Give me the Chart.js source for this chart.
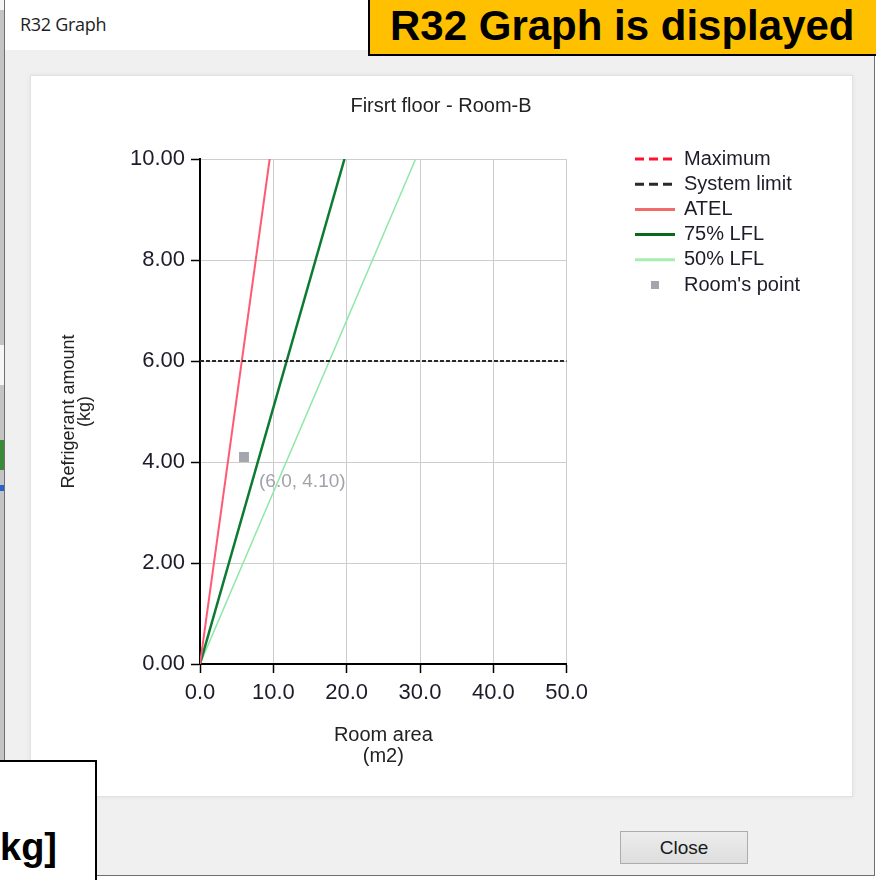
<!DOCTYPE html>
<html>
<head>
<meta charset="utf-8">
<title>R32 Graph</title>
<script src="https://cdn.jsdelivr.net/npm/chart.js@4.4.1/dist/chart.umd.min.js"></script>
<style>
  html, body { margin: 0; padding: 0; }
  body {
    width: 876px; height: 880px; position: relative; overflow: hidden;
    background: #fff; font-family: "Liberation Sans", Arial, sans-serif;
  }
  #behind { position: absolute; left: 0; top: 0; width: 5px; height: 880px; background: #c4c4c4; }
  #behind .strip { position: absolute; left: 0; width: 5px; }
  #window {
    position: absolute; left: 4px; top: -1px; width: 869px; height: 875px;
    background: #f0f0f0; border: 1px solid #6e6e6e;
  }
  #titlebar {
    position: absolute; left: 0; top: 0; width: 869px; height: 50px; background: #fff;
  }
  #titlebar span {
    position: absolute; left: 15px; top: 12px;
    font: 18px "Open Sans", "Noto Sans", sans-serif; color: #1e1e1e; letter-spacing: -0.3px;
  }
  #panel {
    position: absolute; left: 25px; top: 75px; width: 821px; height: 720px;
    background: #fff; border: 1px solid #e2e2e2; box-shadow: 0 0 4px rgba(0,0,0,0.07);
  }
  #closeBtn {
    position: absolute; left: 615px; top: 831px; width: 126px; height: 31px;
    background: linear-gradient(#ececec, #dedede); border: 1px solid #adadad;
    font-size: 19px; color: #1a1a1a; text-align: center; line-height: 31px;
  }
  #chart { position: absolute; left: 0; top: 0; z-index: 2; }
  #banner {
    position: absolute; left: 368px; top: -2px; width: 520px; height: 58px; z-index: 3;
    background: #ffc000; border: 2px solid #000; box-sizing: border-box;
    font-weight: bold; font-size: 42px; line-height: 52px; padding-left: 20px; color: #000;
    white-space: nowrap;
  }
  #unitBox {
    position: absolute; left: -4px; top: 760px; width: 101px; height: 130px; z-index: 3;
    background: #fff; border: 2px solid #000; box-sizing: border-box;
  }
  #unitBox span {
    position: absolute; left: 2px; top: 64px; font-weight: bold; font-size: 38px; color: #000;
  }
</style>
</head>
<body>
<div id="behind">
  <div class="strip" style="top:0;height:10px;background:#f4f4f4"></div>
  <div class="strip" style="top:345px;height:40px;background:#f6f6f6"></div>
  <div class="strip" style="top:440px;height:30px;background:#3a8a3a"></div>
  <div class="strip" style="top:485px;height:6px;background:#2a62c8"></div>
</div>
<div id="window">
  <div id="titlebar"><span>R32 Graph</span></div>
  <div id="panel"></div>
  <div id="closeBtn">Close</div>
</div>
<canvas id="chart" width="876" height="880"></canvas>
<div id="banner">R32 Graph is displayed</div>
<div id="unitBox"><span>kg]</span></div>

<script>
// axis ticks
const areaTicks = [0, 10, 20, 30, 40, 50];
const amountTicks = [0, 2, 4, 6, 8, 10];

// series (room area m2 -> refrigerant kg)
const seriesNames = ['Maximum', 'System limit', 'ATEL', '75% LFL', '50% LFL', "Room's point"];
const maximumArea = [];
const maximumAmount = [];
const systemLimitArea = [0, 50];
const systemLimitAmount = [6, 6];
const atelArea = [0, 9.5];
const atelAmount = [0, 10];
const lfl75Area = [0, 19.7];
const lfl75Amount = [0, 10];
const lfl50Area = [0, 29.4];
const lfl50Amount = [0, 10];
const roomArea = [6.0];
const roomAmount = [4.10];

const FONT = '"Liberation Sans", Arial, sans-serif';
const TEXT = '#1c1c2a';

function pts(xs, ys) {
  return xs.map((x, i) => ({ x: x, y: ys[i] }));
}

function lineSet(name, xs, ys, color, width, dash) {
  return {
    label: name,
    data: pts(xs, ys),
    showLine: true,
    borderColor: color,
    backgroundColor: color,
    borderWidth: width,
    borderDash: dash || [],
    pointRadius: 0,
    fill: false,
  };
}

// heading, right-hand legend and the value tag next to the room point
const panelExtras = {
  id: 'panelExtras',
  afterDraw(chart, args, o) {
    const ctx = chart.ctx;
    ctx.save();
    ctx.textBaseline = 'middle';

    ctx.font = '20px ' + FONT;
    ctx.fillStyle = '#222';
    ctx.textAlign = 'center';
    ctx.fillText(o.heading, o.headingX, o.headingY);

    ctx.textAlign = 'left';
    chart.data.datasets.forEach((ds, i) => {
      const y = o.legendY + i * o.legendStep;
      if (ds.showLine) {
        ctx.beginPath();
        ctx.setLineDash(ds.borderDash.length ? [9, 5] : []);
        ctx.strokeStyle = ds.legendColor || ds.borderColor;
        ctx.lineWidth = 3;
        ctx.moveTo(o.legendX, y);
        ctx.lineTo(o.legendX + 40, y);
        ctx.stroke();
        ctx.setLineDash([]);
      } else {
        ctx.fillStyle = ds.backgroundColor;
        ctx.fillRect(o.legendX + 16, y - 4, 8, 8);
      }
      ctx.fillStyle = TEXT;
      ctx.fillText(ds.label, o.legendX + 49, y);
    });

    const meta = chart.getDatasetMeta(5);
    meta.data.forEach((el, i) => {
      const d = chart.data.datasets[5].data[i];
      ctx.font = '19px ' + FONT;
      ctx.fillStyle = '#a2a2aa';
      ctx.fillText('(' + d.x.toFixed(1) + ', ' + d.y.toFixed(2) + ')', el.x + 15, el.y + 25);
    });
    ctx.restore();
  }
};

new Chart(document.getElementById('chart'), {
  type: 'scatter',
  data: {
    datasets: [
      lineSet(seriesNames[0], maximumArea, maximumAmount, '#ff1030', 2, [4, 2]),
      lineSet(seriesNames[1], systemLimitArea, systemLimitAmount, '#2a2a2a', 2, [4, 2]),
      Object.assign(lineSet(seriesNames[2], atelArea, atelAmount, '#ff5a74', 2), { legendColor: '#f26a6a' }),
      Object.assign(lineSet(seriesNames[3], lfl75Area, lfl75Amount, '#0d7a34', 2.5), { legendColor: '#0a6a1c' }),
      Object.assign(lineSet(seriesNames[4], lfl50Area, lfl50Amount, '#8fe8a8', 1.5), { legendColor: '#a6eeb0' }),
      {
        label: seriesNames[5],
        data: pts(roomArea, roomAmount),
        pointStyle: 'rect',
        pointRadius: 7,
        backgroundColor: '#a5a5ad',
        borderWidth: 0,
      },
    ],
  },
  options: {
    responsive: false,
    animation: false,
    devicePixelRatio: 1,
    events: [],
    layout: { padding: { left: 61, top: 159, right: 309.3, bottom: 113.5 } },
    plugins: {
      legend: { display: false },
      tooltip: { enabled: false },
      panelExtras: {
        heading: 'Firsrt floor - Room-B',
        headingX: 441, headingY: 106,
        legendX: 635, legendY: 159, legendStep: 25.2,
      },
    },
    scales: {
      x: {
        type: 'linear', min: 0, max: 50,
        afterBuildTicks: s => { s.ticks = areaTicks.map(v => ({ value: v })); },
        afterFit: s => { s.height = 102.5; s.paddingLeft = 0; s.paddingRight = 0; },
        ticks: {
          padding: 7, color: TEXT, maxRotation: 0,
          font: { family: FONT, size: 22 },
          callback: v => Number(v).toFixed(1),
        },
        grid: { color: '#cdcdcd', lineWidth: 1, tickColor: '#000', tickLength: 9, tickWidth: 1.5 },
        border: { color: '#000', width: 2 },
        title: {
          display: true, text: ['Room area', '(m2)'], color: '#222',
          font: { family: FONT, size: 20, lineHeight: 1.05 }, padding: { top: 0, bottom: 0 },
        },
      },
      y: {
        type: 'linear', min: 0, max: 10,
        afterBuildTicks: s => { s.ticks = amountTicks.map(v => ({ value: v })); },
        afterFit: s => { s.width = 139; s.paddingTop = 0; s.paddingBottom = 0; },
        ticks: {
          padding: 6, color: TEXT,
          font: { family: FONT, size: 22 },
          callback: v => Number(v).toFixed(2),
        },
        grid: { color: '#cdcdcd', lineWidth: 1, tickColor: '#000', tickLength: 9, tickWidth: 1.5 },
        border: { color: '#000', width: 2 },
        title: {
          display: true, text: ['Refrigerant amount', '(kg)'], color: '#222',
          font: { family: FONT, size: 18, lineHeight: 0.9 }, padding: { top: 0, bottom: 0 },
        },
      },
    },
  },
  plugins: [panelExtras],
});
</script>
</body>
</html>
